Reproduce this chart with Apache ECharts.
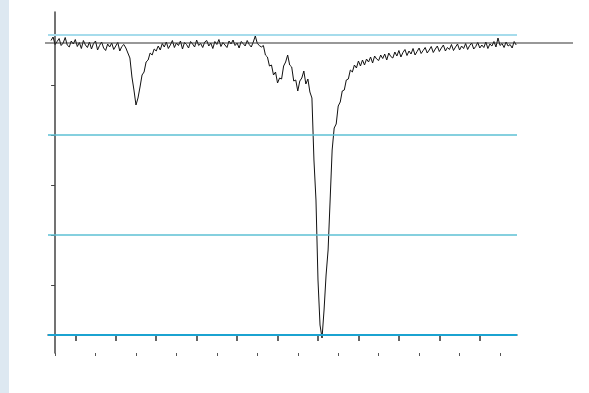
<!DOCTYPE html>
<html>
<head>
<meta charset="utf-8">
<script src="https://cdn.jsdelivr.net/npm/echarts@6/dist/echarts.min.js"></script>
<style>
html,body{margin:0;padding:0;background:#fff;}
#main{width:589px;height:393px;}
</style>
</head>
<body>
<div id="main"></div>
<script>
// spectrum, sampled from x = -2 in steps of 1
var xStart = -2;
var xStep = 1;
var spectrum = [
	58.9, 59.6, 58.1, 58.7, 59.3, 57.9, 58.4, 59.5, 58.0, 57.6,
	58.8, 58.2, 59.1, 57.7, 58.5, 57.3, 58.9, 58.0, 57.5, 58.6,
	57.2, 58.3, 58.8, 57.0, 57.9, 58.6, 57.4, 56.9, 58.2, 57.6,
	58.4, 57.1, 57.8, 58.5, 56.8, 57.7, 58.1,
	57.4, 56.4, 55.4, 51.6, 49.0, 46.0, 47.4, 49.6, 52.0, 52.6,
	54.6, 55.0, 56.4, 56.0, 57.2, 56.8, 57.8, 57.0, 58.3, 57.6,
	58.6, 57.3, 58.0, 58.9, 57.5, 58.4, 57.9, 58.8, 57.2, 58.5,
	58.1, 57.4, 58.7, 58.2, 57.6, 59.0, 57.9, 58.3, 57.5, 58.6,
	58.9, 57.8, 58.4, 57.3, 58.7, 58.1, 59.1, 57.7, 58.5, 58.0,
	57.5, 58.8, 58.2, 59.0, 57.9, 58.4, 57.4, 58.7, 58.3, 57.8,
	58.9, 58.1, 57.6, 58.6, 59.8, 58.3, 57.9,
	57.6, 57.9, 56.0, 55.6, 53.8, 54.0, 52.0, 52.6, 50.4, 51.4,
	51.2, 53.8, 54.6, 56.0, 54.0, 53.6, 50.8, 51.0, 48.8, 50.8,
	51.4, 52.8, 50.2, 51.2, 48.6, 47.4, 35.0, 27.0, 11.0, 2.0,
	-0.6, 5.0, 12.0, 17.0, 27.0, 37.0, 41.4, 42.2, 45.8, 46.6,
	48.8, 49.0, 51.0, 51.2, 53.0, 52.6, 54.0, 53.4, 54.8, 53.8,
	55.0, 54.0, 55.2, 54.6, 55.6, 54.4, 55.8, 55.2, 54.9, 56.0,
	55.3, 56.2, 55.0, 56.4, 55.7, 55.4, 56.6, 55.8, 56.9, 55.6,
	56.5, 57.1, 55.9, 56.8, 56.2, 57.3, 56.0, 56.7, 57.4, 56.3,
	56.9, 57.5, 56.4, 57.0, 57.7, 56.5, 57.2, 57.8, 56.7, 57.4,
	58.0, 56.8, 57.5, 57.1, 58.1, 56.9, 57.6, 58.2, 57.0, 57.8,
	57.3, 58.3, 57.1, 57.9, 58.4, 57.2, 57.7, 58.5, 57.4, 58.0,
	57.5, 58.6, 57.3, 58.2, 57.8, 58.7, 57.6, 59.4, 57.9, 58.3,
	57.5, 58.6, 57.8, 58.1, 57.4, 58.7, 58.0
];
var yTicks = [0, 10, 20, 30, 40, 50, 60];
var xMajorTicks = [10, 30, 50, 70, 90, 110, 130, 150, 170, 190, 210];
var xMinorTicks = [0, 20, 40, 60, 80, 100, 120, 140, 160, 180, 200, 220];
var continuum = 58.4;
var levelLines = [0, 20, 40, 60];
var levelColors = ['#1ba3d1', '#5cc0d4', '#5cc0d4', '#a6dcec'];
var levelWidths = [2, 1.5, 1.5, 2];

var points = [];
for (var i = 0; i < spectrum.length; i++) {
	points.push([xStart + i * xStep, spectrum[i]]);
}

var marks = [];
for (var j = 0; j < levelLines.length; j++) {
	marks.push({
		yAxis: levelLines[j],
		lineStyle: {color: levelColors[j], width: levelWidths[j], type: 'solid'}
	});
}

var myChart = echarts.init(document.getElementById('main'));
var option = {
	animation: false,
	backgroundColor: '#fff',
	grid: {left: 48, right: 72, top: 12, bottom: 40},
	xAxis: [{
		type: 'value', min: -3.5, max: 228.4,
		axisLine: {show: true, lineStyle: {color: '#444', width: 1.5}},
		axisTick: {show: true, length: 6, customValues: xMajorTicks, lineStyle: {color: '#333', width: 1.5}},
		axisLabel: {show: false},
		splitLine: {show: false}
	}, {
		type: 'value', min: -3.5, max: 228.4, position: 'bottom',
		axisLine: {show: false},
		axisTick: {show: true, length: 3, customValues: xMinorTicks, lineStyle: {color: '#555', width: 1}},
		axisLabel: {show: false},
		splitLine: {show: false}
	}],
	yAxis: {
		type: 'value', min: -3.6, max: 64.6,
		axisLine: {show: true, lineStyle: {color: '#444', width: 1.5}},
		axisTick: {show: true, length: 4, customValues: yTicks, lineStyle: {color: '#444'}},
		axisLabel: {show: false},
		splitLine: {show: false}
	},
	series: [{
		type: 'line',
		data: points,
		symbol: 'none',
		lineStyle: {color: '#111', width: 1},
		markLine: {
			silent: true, symbol: 'none', label: {show: false},
			data: marks
		},
		z: 3
	}]
};
myChart.setOption(option);

// the continuum line runs past the plot frame, so it is a graphic
var cy = myChart.convertToPixel({yAxisIndex: 0}, continuum);
myChart.setOption({
	graphic: [{
		type: 'rect', shape: {x: 0, y: 0, width: 9, height: 393},
		style: {fill: '#dde8f1'}, silent: true
	}, {
		type: 'line', shape: {x1: 45, y1: cy, x2: 573, y2: cy},
		style: {stroke: '#333', lineWidth: 1.2}, silent: true, z: 10
	}]
});
</script>
</body>
</html>
